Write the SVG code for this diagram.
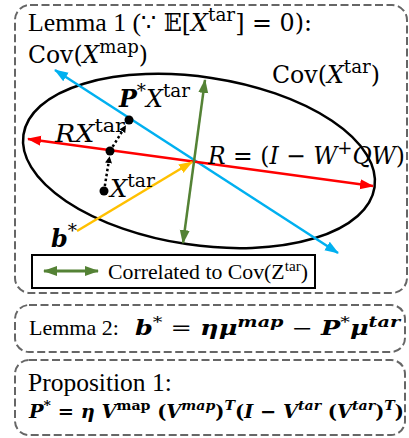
<svg xmlns="http://www.w3.org/2000/svg" width="409" height="438" viewBox="0 0 409 438">
<defs>
<style>
.box{fill:none;stroke:#666;stroke-width:2;stroke-dasharray:8 3.5}
.t{font-family:"Liberation Serif",serif;fill:#000}
.m{font-family:"DejaVu Serif",serif;fill:#000}
.i{font-style:italic}
.b{font-weight:bold}
.n{font-style:normal;font-weight:normal}
</style>
<marker id="ab" viewBox="0 0 14 10" refX="13" refY="5" markerWidth="14" markerHeight="11" markerUnits="userSpaceOnUse" orient="auto-start-reverse"><path d="M0,0 L14,5 L0,10 z" fill="#00B0F0"/></marker>
<marker id="ar" viewBox="0 0 14 10" refX="13" refY="5" markerWidth="14" markerHeight="11" markerUnits="userSpaceOnUse" orient="auto-start-reverse"><path d="M0,0 L14,5 L0,10 z" fill="#FF0000"/></marker>
<marker id="ag" viewBox="0 0 14 10" refX="13" refY="5" markerWidth="14" markerHeight="11" markerUnits="userSpaceOnUse" orient="auto-start-reverse"><path d="M0,0 L14,5 L0,10 z" fill="#548235"/></marker>
<marker id="ay" viewBox="0 0 14 10" refX="13" refY="5" markerWidth="14" markerHeight="11" markerUnits="userSpaceOnUse" orient="auto-start-reverse"><path d="M0,0 L14,5 L0,10 z" fill="#FFC000"/></marker>
<marker id="ak" viewBox="0 0 8 8" refX="7" refY="4" markerWidth="7" markerHeight="7" markerUnits="userSpaceOnUse" orient="auto"><path d="M0,0 L8,4 L0,8 z" fill="#000"/></marker>
</defs>

<g id="lemma1-box">
<rect class="box" x="15" y="5" width="392" height="288" rx="15"/>
<text class="t" x="28" y="31" font-size="26" textLength="284" lengthAdjust="spacingAndGlyphs">Lemma 1 (<tspan class="m" font-size="24">∵ 𝔼[</tspan><tspan class="m i" font-size="24">X</tspan><tspan class="m" font-size="18.5" dy="-10">tar</tspan><tspan class="m" font-size="24" dy="10">] = 0):</tspan></text>
</g>

<g id="covtar-ellipse">
<ellipse cx="199" cy="161" rx="177.5" ry="84" transform="rotate(8.5 199 161)" fill="none" stroke="#000" stroke-width="2.5"/>
<text class="m" x="272" y="83" font-size="24" textLength="108" lengthAdjust="spacingAndGlyphs">Cov(<tspan class="i">X</tspan><tspan font-size="18.5" dy="-10">tar</tspan><tspan dy="10">)</tspan></text>
</g>

<g id="connectors">
<line x1="338" y1="253" x2="55" y2="70" stroke="#00B0F0" stroke-width="2.5" marker-start="url(#ab)" marker-end="url(#ab)"/>
<line x1="373" y1="186" x2="28" y2="139" stroke="#FF0000" stroke-width="2.5" marker-start="url(#ar)" marker-end="url(#ar)"/>
<line x1="183" y1="243" x2="205" y2="80" stroke="#548235" stroke-width="2.5" marker-start="url(#ag)" marker-end="url(#ag)"/>
<line x1="77" y1="231" x2="192" y2="162" stroke="#FFC000" stroke-width="2.5" marker-end="url(#ay)"/>
<line x1="104" y1="191" x2="109.5" y2="157" stroke="#000" stroke-width="2.5" stroke-dasharray="2.5 2.5" marker-end="url(#ak)"/>
<line x1="110" y1="151" x2="125.5" y2="126" stroke="#000" stroke-width="2.5" stroke-dasharray="2.5 2.5" marker-end="url(#ak)"/>
</g>

<g id="covmap-label">
<text class="m" x="28" y="63" font-size="24" textLength="120" lengthAdjust="spacingAndGlyphs">Cov(<tspan class="i">X</tspan><tspan font-size="18.5" dy="-10">map</tspan><tspan dy="10">)</tspan></text>
</g>

<g id="point-xtar">
<circle cx="104" cy="191" r="4.5" fill="#000"/>
<text class="m" x="110" y="197" font-size="24" textLength="45" lengthAdjust="spacingAndGlyphs"><tspan class="i">X</tspan><tspan font-size="18.5" dy="-10">tar</tspan></text>
</g>
<g id="point-rxtar">
<circle cx="110" cy="151" r="4.5" fill="#000"/>
<text class="m" x="55" y="142" font-size="24" textLength="70" lengthAdjust="spacingAndGlyphs"><tspan class="i">RX</tspan><tspan font-size="18.5" dy="-10">tar</tspan></text>
</g>
<g id="point-pxtar">
<circle cx="129" cy="120" r="4.5" fill="#000"/>
<text class="m" x="119" y="107" font-size="24" textLength="71" lengthAdjust="spacingAndGlyphs"><tspan class="i b">P</tspan><tspan font-size="18.5" dy="-10">*</tspan><tspan class="i" dy="10">X</tspan><tspan font-size="18.5" dy="-10">tar</tspan></text>
</g>

<g id="r-label">
<text class="m" x="208" y="164" font-size="24" textLength="197" lengthAdjust="spacingAndGlyphs"><tspan class="i">R</tspan> = (<tspan class="i">I</tspan> − <tspan class="i">W</tspan><tspan font-size="18.5" dy="-10">+</tspan><tspan class="i" dy="10">QW</tspan>)</text>
</g>

<g id="bstar-label">
<text class="m i b" x="51" y="247" font-size="24">b<tspan class="n" font-size="18.5" dy="-10">*</tspan></text>
</g>

<g id="legend">
<rect x="32" y="255" width="283" height="33" fill="#fff" stroke="#000" stroke-width="2"/>
<line x1="44" y1="271" x2="98" y2="271" stroke="#548235" stroke-width="3" marker-start="url(#ag)" marker-end="url(#ag)"/>
<text class="t" x="108" y="279" font-size="20" textLength="200" lengthAdjust="spacingAndGlyphs">Correlated to Cov(Z<tspan font-size="14" dy="-8">tar</tspan><tspan dy="8">)</tspan></text>
</g>

<g id="lemma2-box">
<rect class="box" x="15" y="305" width="390" height="47" rx="14"/>
<text class="t" x="29" y="335" font-size="22">Lemma 2:</text>
<text class="m b i" x="135" y="335" font-size="20" textLength="265" lengthAdjust="spacingAndGlyphs">b<tspan class="n" font-size="15" dy="-8">*</tspan><tspan class="n" dy="8"> = </tspan>ημ<tspan font-size="15" dy="-8">map</tspan><tspan class="n" dy="8"> − </tspan>P<tspan class="n" font-size="15" dy="-8">*</tspan><tspan dy="8">μ</tspan><tspan font-size="15" dy="-8">tar</tspan></text>
</g>

<g id="prop1-box">
<rect class="box" x="15" y="360" width="390" height="75" rx="14"/>
<text class="t" x="28" y="391" font-size="25.5">Proposition 1:</text>
<text class="m b" x="29" y="418" font-size="18.5" textLength="375" lengthAdjust="spacingAndGlyphs"><tspan class="i">P</tspan><tspan font-size="13.5" dy="-8">*</tspan><tspan dy="8"> = </tspan><tspan class="i">η V</tspan><tspan font-size="13.5" dy="-8">map</tspan><tspan dy="8"> (</tspan><tspan class="i">V</tspan><tspan class="i" font-size="13.5" dy="-8">map</tspan><tspan dy="8">)</tspan><tspan class="i" font-size="13.5" dy="-8">T</tspan><tspan dy="8">(</tspan><tspan class="i">I</tspan><tspan> − </tspan><tspan class="i">V</tspan><tspan class="i" font-size="13.5" dy="-8">tar</tspan><tspan dy="8"> (</tspan><tspan class="i">V</tspan><tspan class="i" font-size="13.5" dy="-8">tar</tspan><tspan dy="8">)</tspan><tspan class="i" font-size="13.5" dy="-8">T</tspan><tspan dy="8">)</tspan></text>
</g>
</svg>
